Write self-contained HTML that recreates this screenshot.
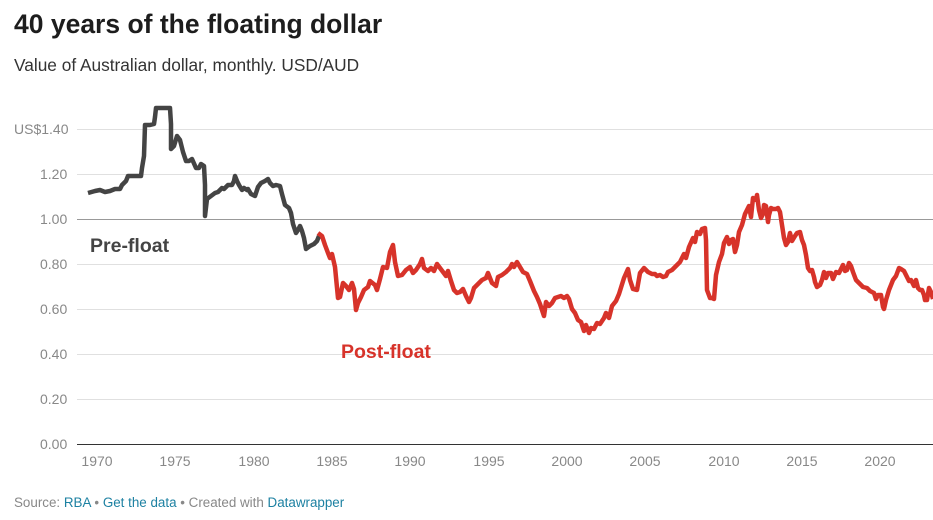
<!DOCTYPE html>
<html><head><meta charset="utf-8"><style>
body{margin:0;background:#fff;font-family:"Liberation Sans",sans-serif;width:933px;height:520px;overflow:hidden;position:relative}
.t{position:absolute;left:14px;top:9px;font-size:26.5px;font-weight:bold;color:#1d1d1d}
.s{position:absolute;left:14px;top:55px;font-size:17.3px;color:#333}
.src{position:absolute;left:14px;top:495px;font-size:13.4px;color:#888}
.src span{color:#1d81a2}
</style></head><body>
<div class="t">40 years of the floating dollar</div>
<div class="s">Value of Australian dollar, monthly. USD/AUD</div>
<svg width="933" height="520" style="position:absolute;left:0;top:0">
<g stroke="#e0e0e0" stroke-width="1">
<line x1="77" x2="933" y1="129.5" y2="129.5"/><line x1="77" x2="933" y1="174.5" y2="174.5"/>
<line x1="77" x2="933" y1="264.5" y2="264.5"/><line x1="77" x2="933" y1="309.5" y2="309.5"/>
<line x1="77" x2="933" y1="354.5" y2="354.5"/><line x1="77" x2="933" y1="399.5" y2="399.5"/>
</g>
<line x1="77" x2="933" y1="219.5" y2="219.5" stroke="#999"/>
<line x1="77" x2="933" y1="444.5" y2="444.5" stroke="#333"/>
<g font-size="14" fill="#888" font-family="Liberation Sans">
<text x="14" y="134">US$1.40</text><text x="40" y="179">1.20</text><text x="40" y="224">1.00</text>
<text x="40" y="269">0.80</text><text x="40" y="314">0.60</text><text x="40" y="359">0.40</text>
<text x="40" y="404">0.20</text><text x="40" y="449">0.00</text>
</g>
<g font-size="14" fill="#888" text-anchor="middle" font-family="Liberation Sans">
<text x="97" y="466">1970</text><text x="175" y="466">1975</text><text x="254" y="466">1980</text>
<text x="332" y="466">1985</text><text x="410" y="466">1990</text><text x="489" y="466">1995</text>
<text x="567" y="466">2000</text><text x="645" y="466">2005</text><text x="724" y="466">2010</text>
<text x="802" y="466">2015</text><text x="880" y="466">2020</text>
</g>
<polyline fill="none" stroke="#444" stroke-width="4.5" stroke-linejoin="round" points="88,193 95,191 100,190 105,192 110,191 115,189 120,189 122,185 126,181 128,176 133,176 138,176 141,176 142,168 144,156 145,125 150,125 154,124 155,117 156,108 161,108 170,108 171,124 171,149 174,146 177,136 180,140 183,152 186,161 189,161 192,159 196,168 199,168 201,164 204,166 205,185 205,216 207,199 211,196 215,193 218,192 222,188 224,189 228,185 232,185 234,181 235,176 237,181 239,185 242,190 244,188 247,190 248,189 251,194 255,196 258,187 261,183 265,181 268,179 270,183 273,186 276,185 280,186 282,194 285,205 289,208 291,213 293,224 296,233 298,230 300,226 302,231 304,238 306,249 310,246 314,244 317,241 319,236"/>
<polyline fill="none" stroke="#d7332a" stroke-width="4.5" stroke-linejoin="round" points="318,233 322,236 325,245 328,253 330,258 332,254 335,267 338,298 340,297 343,283 346,286 349,290 352,283 354,289 356,310 358,303 361,297 364,290 368,287 370,281 375,285 377,290 380,279 383,267 387,268 390,252 393,245 395,262 398,276 402,275 406,270 410,267 413,273 416,270 420,264 422,259 424,268 428,271 431,268 434,271 437,264 440,268 443,272 446,276 448,271 451,281 454,290 457,293 460,292 463,289 466,296 469,302 471,298 474,288 478,284 482,280 486,278 488,273 492,283 496,286 498,277 502,275 506,272 510,268 512,264 514,267 517,262 520,267 523,272 527,274 530,281 534,291 537,297 540,304 544,316 546,302 549,306 552,303 555,298 558,297 561,296 564,298 567,296 569,299 572,309 575,313 578,320 581,322 584,331 586,325 589,333 591,328 594,329 597,323 600,324 604,318 606,313 609,318 612,306 616,301 619,294 624,278 628,269 630,280 633,289 637,290 640,273 644,268 648,272 652,274 655,274 657,276 660,275 663,277 666,276 668,272 672,270 676,266 680,262 684,254 686,258 689,247 693,238 695,242 697,232 700,234 702,229 705,228 706,240 707,290 710,298 712,298 714,299 716,275 719,262 722,254 724,243 727,237 729,244 731,240 733,239 735,252 737,245 739,232 742,225 745,214 747,210 749,206 751,217 753,198 756,200 757,195 759,210 761,218 763,214 764,205 766,206 768,222 769,215 771,208 773,209 776,209 778,208 780,212 782,225 784,238 786,245 788,242 790,233 792,241 795,236 797,233 800,232 802,240 804,245 806,255 808,268 810,271 812,270 814,277 815,282 817,287 820,285 822,280 824,272 826,278 828,273 831,273 833,279 836,272 839,273 843,265 845,271 847,270 849,263 851,266 853,272 856,280 860,284 863,287 867,288 870,291 874,293 876,299 878,295 881,295 883,307 884,309 886,300 889,290 893,280 896,276 899,268 901,269 904,271 906,275 909,281 911,280 914,286 916,280 918,288 920,290 922,290 924,295 925,300 927,300 929,288 931,292 933,299"/>
<text x="90" y="252" font-size="19.5" font-weight="bold" fill="#444" font-family="Liberation Sans">Pre-float</text>
<text x="341" y="358" font-size="19.5" font-weight="bold" fill="#d7332a" font-family="Liberation Sans">Post-float</text>
</svg>
<div class="src">Source: <span>RBA</span> • <span>Get the data</span> • Created with <span>Datawrapper</span></div>
</body></html>
